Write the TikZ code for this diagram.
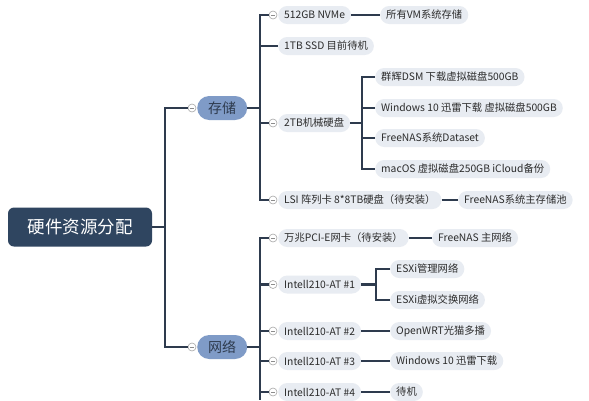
\documentclass[tikz,border=0pt]{standalone}
\usepackage{fontspec}
\setmainfont{Noto Sans CJK SC}
\usepackage{tikz}
\definecolor{colLine}{HTML}{2E3B4E}
\definecolor{colRoot}{HTML}{2F4560}
\definecolor{colMid}{HTML}{7F9BC7}
\definecolor{colPill}{HTML}{E8ECF2}
\definecolor{colText}{HTML}{2B2B2B}
\def\rootfont{\fontsize{17.5pt}{20pt}\selectfont}
\def\midfont{\fontsize{14pt}{16pt}\selectfont}
\def\pillfont{\fontsize{10.3pt}{12pt}\selectfont}
\tikzset{
  link/.style={draw=colLine, line width=2.6pt},
  pill/.style={fill=colPill, rounded corners=9pt, minimum height=18pt,
    inner xsep=6pt, inner ysep=0pt, font=\pillfont, text=colText, anchor=west},
  midbox/.style={fill=colMid, rounded corners=12pt, minimum height=24pt,
    minimum width=50pt, inner sep=0pt, font=\midfont, text=colLine, anchor=west},
  fold/.style={circle, draw=black!35, fill=white, line width=0.6pt,
    minimum size=8pt, inner sep=0pt,
    path picture={\draw[black!45, line width=0.6pt]
      ([xshift=-2.2pt]path picture bounding box.center) --
      ([xshift=2.2pt]path picture bounding box.center);}},
}
% leaf: name, x, y, text
\newcommand{\leaf}[4]{%
  \node[pill] (#1) at (#2,#3) {#4};}
% folded item: name, y, text (circle at 273, pill at 278)
\newcommand{\folditem}[3]{%
  \node[fold] (#1c) at (273,#2) {};%
  \node[pill] (#1) at (278,#2) {#3};}

\begin{document}
\begin{tikzpicture}[x=1pt, y=-1pt]
\useasboundingbox[fill=white] (0,0) rectangle (589,400);

% ===================== ROOT =====================
\node[fill=colRoot, rounded corners=6pt, minimum width=144pt, minimum height=39pt,
      inner sep=0pt, font=\rootfont, text=white] (root) at (80,227) {硬件资源分配};

\node[fold] (storc) at (192,108) {};
\node[midbox] (stor) at (197,108) {存储};
\node[fold] (netc) at (192,347) {};
\node[midbox] (net) at (197,347) {网络};

\coordinate (trunk) at (165,227);
\draw[link] (root.east) -- (trunk);
\draw[link] (trunk) |- (storc.west);
\draw[link] (trunk) |- (netc.west);

% ===================== 存储 =====================
\folditem{nvme}{15}{512GB NVMe}
\leaf{n1tb}{278}{46}{1TB SSD 目前待机}
\folditem{hdd}{123}{2TB机械硬盘}
\folditem{lsi}{200}{LSI 阵列卡 8*8TB硬盘（待安装）}

\coordinate (storbar) at (260,108);
\draw[link] (stor.east) -- (storbar);
\draw[link] (storbar) |- (nvmec.west);
\draw[link] (storbar) |- (n1tb.west);
\draw[link] (storbar) |- (hddc.west);
\draw[link] (storbar) |- (lsic.west);

\leaf{vmall}{380}{15}{所有VM系统存储}
\draw[link] (nvme.east) -- (vmall.west);

\leaf{dsm}{375}{77}{群辉DSM 下载虚拟磁盘500GB}
\leaf{win}{375}{108}{Windows 10 迅雷下载 虚拟磁盘500GB}
\leaf{ds}{375}{138}{FreeNAS系统Dataset}
\leaf{mac}{375}{169}{macOS 虚拟磁盘250GB iCloud备份}
\coordinate (hddbar) at (362,123);
\draw[link] (hdd.east) -- (hddbar);
\foreach \n in {dsm,win,ds,mac}
  \draw[link] (hddbar) |- (\n.west);

\leaf{pool}{458}{200}{FreeNAS系统主存储池}
\draw[link] (lsi.east) -- (pool.west);

% ===================== 网络 =====================
\folditem{tenG}{238}{万兆PCI-E网卡（待安装）}
\folditem{nicA}{284.5}{Intell210-AT \#1}
\folditem{nicB}{331}{Intell210-AT \#2}
\folditem{nicC}{361}{Intell210-AT \#3}
\folditem{nicD}{392}{Intell210-AT \#4}

\coordinate (netbar) at (260,347);
\coordinate (netend) at (260,400);
\draw[link] (net.east) -- (netbar);
\draw[link] (netbar) -- (netend);
\foreach \n in {tenG,nicA,nicB,nicC,nicD}
  \draw[link] (netbar) |- (\n c.west);

\leaf{fnnet}{432}{238}{FreeNAS 主网络}
\draw[link] (tenG.east) -- (fnnet.west);

\leaf{esxm}{390}{269}{ESXi管理网络}
\leaf{esxv}{390}{300}{ESXi虚拟交换网络}
\coordinate (nicbar) at (376,284.5);
\draw[link] (nicA.east) -- (nicbar);
\draw[link] (nicbar) |- (esxm.west);
\draw[link] (nicbar) |- (esxv.west);

\leaf{owrt}{390}{331}{OpenWRT光猫多播}
\leaf{wdl}{390}{361}{Windows 10 迅雷下载}
\leaf{idle}{390}{392}{待机}
\draw[link] (nicB.east) -- (owrt.west);
\draw[link] (nicC.east) -- (wdl.west);
\draw[link] (nicD.east) -- (idle.west);

\end{tikzpicture}
\end{document}
